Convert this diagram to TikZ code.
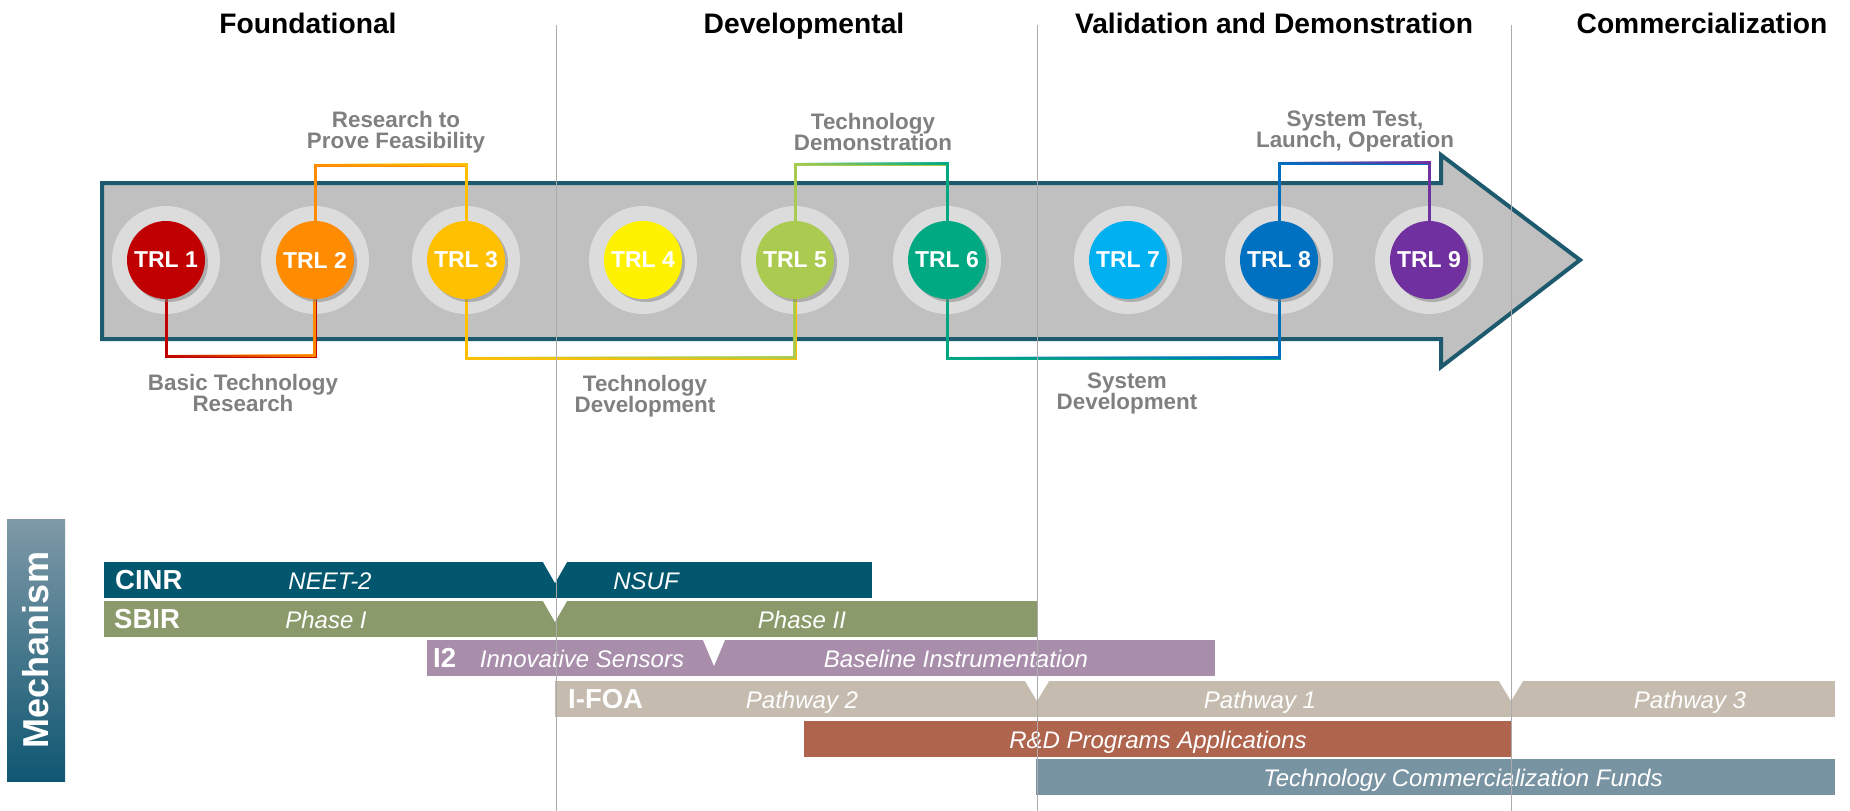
\documentclass[tikz,border=0pt]{standalone}
\usepackage{fontspec}
\setmainfont{Liberation Sans}
\usetikzlibrary{shadows,fadings}

\definecolor{arrowfill}{HTML}{C0C0C0}
\definecolor{arrowline}{HTML}{1D5A6E}
\definecolor{halogray}{HTML}{DCDCDC}
\definecolor{labelgray}{HTML}{808080}
\definecolor{divider}{HTML}{ABABAB}
\definecolor{trlA}{HTML}{C00000}
\definecolor{trlB}{HTML}{FF8C00}
\definecolor{trlC}{HTML}{FFC000}
\definecolor{trlD}{HTML}{FFF200}
\definecolor{trlE}{HTML}{ABCB50}
\definecolor{trlF}{HTML}{00A982}
\definecolor{trlG}{HTML}{00B0F0}
\definecolor{trlH}{HTML}{0070C0}
\definecolor{trlI}{HTML}{7030A0}
\definecolor{cinr}{HTML}{02566E}
\definecolor{sbir}{HTML}{8B9A6A}
\definecolor{itwo}{HTML}{A98EAB}
\definecolor{ifoa}{HTML}{C5BBAE}
\definecolor{rnd}{HTML}{AE644D}
\definecolor{tcf}{HTML}{7893A1}
\definecolor{mechtop}{HTML}{7F99A7}
\definecolor{mechbot}{HTML}{0F5772}

% transparent on the left, opaque on the right: blends a second colour over a link
\tikzfading[name=blendright, left color=transparent!100, right color=transparent!0]

\begin{document}
\begin{tikzpicture}[x=1pt,y=-1pt,
  title/.style={font=\fontsize{28.2}{30}\selectfont\bfseries, text=black, inner sep=0, anchor=base},
  phaselabel/.style={font=\fontsize{22.4}{21}\selectfont\bfseries, text=labelgray, align=center, inner sep=0},
  halo/.style={circle, minimum size=108pt, inner sep=0, fill=halogray},
  trl/.style={circle, minimum size=78pt, inner sep=0, text=white,
    font=\fontsize{23}{23}\selectfont\bfseries,
    drop shadow={shadow xshift=3pt, shadow yshift=-3pt, opacity=0.5}},
  link/.style={line width=3pt, line join=miter},
  bar/.style={anchor=north west, inner sep=0, minimum height=36pt},
  barhead/.style={font=\fontsize{27.5}{28}\selectfont\bfseries, text=white, anchor=base west, inner sep=0},
  baritem/.style={font=\fontsize{24}{26}\selectfont\itshape, text=white, anchor=base, inner sep=0},
  notch/.style={fill=white},
  sep/.style={draw=divider, line width=1pt}
]
\useasboundingbox (0,0) rectangle (1850,811);

% ---------- phase titles ----------
\node[title] (tf) at (308,33) {Foundational};
\node[title] (td) at (804,33) {Developmental};
\node[title] (tv) at (1274,33) {Validation and Demonstration};
\node[title] (tc) at (1702,33) {Commercialization};

% ---------- main arrow ----------
\filldraw[fill=arrowfill, draw=arrowline, line width=4pt, line join=miter]
  (102,183) -- (1441,183) -- (1441,155) -- (1580,260) -- (1441,367)
  -- (1441,339) -- (102,339) -- cycle;

% ---------- halos behind the TRL discs ----------
\foreach \i/\x in {1/166,2/315,3/466,4/643,5/795,6/947,7/1128,8/1279,9/1429}
  \node[halo] (h\i) at (\x,260) {};

% ---------- bracket links between levels (run to the disc centres, discs cover the ends) ----------
\coordinate (b12) at (240,356);
\coordinate (b23) at (390,165);
\coordinate (b35) at (630,358);
\coordinate (b56) at (871,164);
\coordinate (b68) at (1113,358);
\coordinate (b89) at (1354,163);

\draw[link, trlA] (h1.center) |- (b12) -| (h2.center);
\draw[link, trlB, path fading=blendright] (h1.center) |- (b12) -| (h2.center);
\draw[link, trlB] (h2.center) |- (b23) -| (h3.center);
\draw[link, trlC, path fading=blendright] (h2.center) |- (b23) -| (h3.center);
\draw[link, trlC] (h3.center) |- (b35) -| (h5.center);
\draw[link, trlE, path fading=blendright] (h3.center) |- (b35) -| (h5.center);
\draw[link, trlE] (h5.center) |- (b56) -| (h6.center);
\draw[link, trlF, path fading=blendright] (h5.center) |- (b56) -| (h6.center);
\draw[link, trlF] (h6.center) |- (b68) -| (h8.center);
\draw[link, trlH, path fading=blendright] (h6.center) |- (b68) -| (h8.center);
\draw[link, trlH] (h8.center) |- (b89) -| (h9.center);
\draw[link, trlI, path fading=blendright] (h8.center) |- (b89) -| (h9.center);

% ---------- TRL discs ----------
\node[trl, fill=trlA] (t1) at (h1) {TRL 1};
\node[trl, fill=trlB] (t2) at (h2) {TRL 2};
\node[trl, fill=trlC] (t3) at (h3) {TRL 3};
\node[trl, fill=trlD] (t4) at (h4) {TRL 4};
\node[trl, fill=trlE] (t5) at (h5) {TRL 5};
\node[trl, fill=trlF] (t6) at (h6) {TRL 6};
\node[trl, fill=trlG] (t7) at (h7) {TRL 7};
\node[trl, fill=trlH] (t8) at (h8) {TRL 8};
\node[trl, fill=trlI] (t9) at (h9) {TRL 9};

% ---------- stage labels ----------
\node[phaselabel] (l12) at (243,393) {Basic Technology\\Research};
\node[phaselabel] (l23) at (396,132) {Research to\\Prove Feasibility};
\node[phaselabel] (l35) at (645,396) {Technology\\Development};
\node[phaselabel] (l56) at (873,132) {Technology\\Demonstration};
\node[phaselabel] (l68) at (1127,393) {System\\Development};
\node[phaselabel] (l89) at (1355,132) {System Test,\\Launch, Operation};

% ---------- mechanism panel ----------
\node[rectangle, inner sep=0, minimum width=58pt, minimum height=262pt,
      top color=mechtop, bottom color=mechbot] (mech) at (36,650) {};
\node[rotate=90, inner sep=0, text=white,
      font=\fontsize{36}{38}\selectfont\bfseries] (mechtext) at (mech.center) {Mechanism};

% ---------- funding bars ----------
\node[bar, fill=cinr, minimum width=768pt]  (cinrbar) at (104,562) {};
\node[bar, fill=sbir, minimum width=934pt]  (sbirbar) at (104,601) {};
\node[bar, fill=itwo, minimum width=788pt]  (itwobar) at (427,640) {};
\node[bar, fill=ifoa, minimum width=1280pt] (ifoabar) at (555,681) {};
\node[bar, fill=rnd,  minimum width=707pt]  (rndbar)  at (804,721) {};
\node[bar, fill=tcf,  minimum width=799pt]  (tcfbar)  at (1036,759) {};

% notches marking the hand-over points
\fill[notch] (543,562) -- (567,562) -- (555,583) -- cycle;
\fill[notch] (543,601) -- (567,601) -- (555,622) -- cycle;
\fill[notch] (703,640) -- (725,640) -- (714,666) -- cycle;
\fill[notch] (1025,681) -- (1049,681) -- (1037,701) -- cycle;
\fill[notch] (1499,681) -- (1523,681) -- (1511,701) -- cycle;

% bar texts
\node[barhead] (cinrname) at (115,589) {CINR};
\node[baritem] (neet) at (330,589) {NEET-2};
\node[baritem] (nsuf) at (646,589) {NSUF};

\node[barhead] (sbirname) at (114,628) {SBIR};
\node[baritem] (ph1) at (326,628) {Phase I};
\node[baritem] (ph2) at (802,628) {Phase II};

\node[barhead] (itwoname) at (433,667) {I2};
\node[baritem] (isens) at (582,667) {Innovative Sensors};
\node[baritem] (binst) at (956,667) {Baseline Instrumentation};

\node[barhead] (ifoaname) at (568,708) {I-FOA};
\node[baritem] (pw2) at (802,708) {Pathway 2};
\node[baritem] (pw1) at (1260,708) {Pathway 1};
\node[baritem] (pw3) at (1690,708) {Pathway 3};

\node[baritem] (rndtext) at (1158,748) {R\&D Programs Applications};
\node[baritem] (tcftext) at (1463,786) {Technology Commercialization Funds};

% ---------- phase dividers ----------
\draw[sep] (556,25) -- (556,811);
\draw[sep] (1037,25) -- (1037,811);
\draw[sep] (1511,25) -- (1511,811);
\end{tikzpicture}
\end{document}
